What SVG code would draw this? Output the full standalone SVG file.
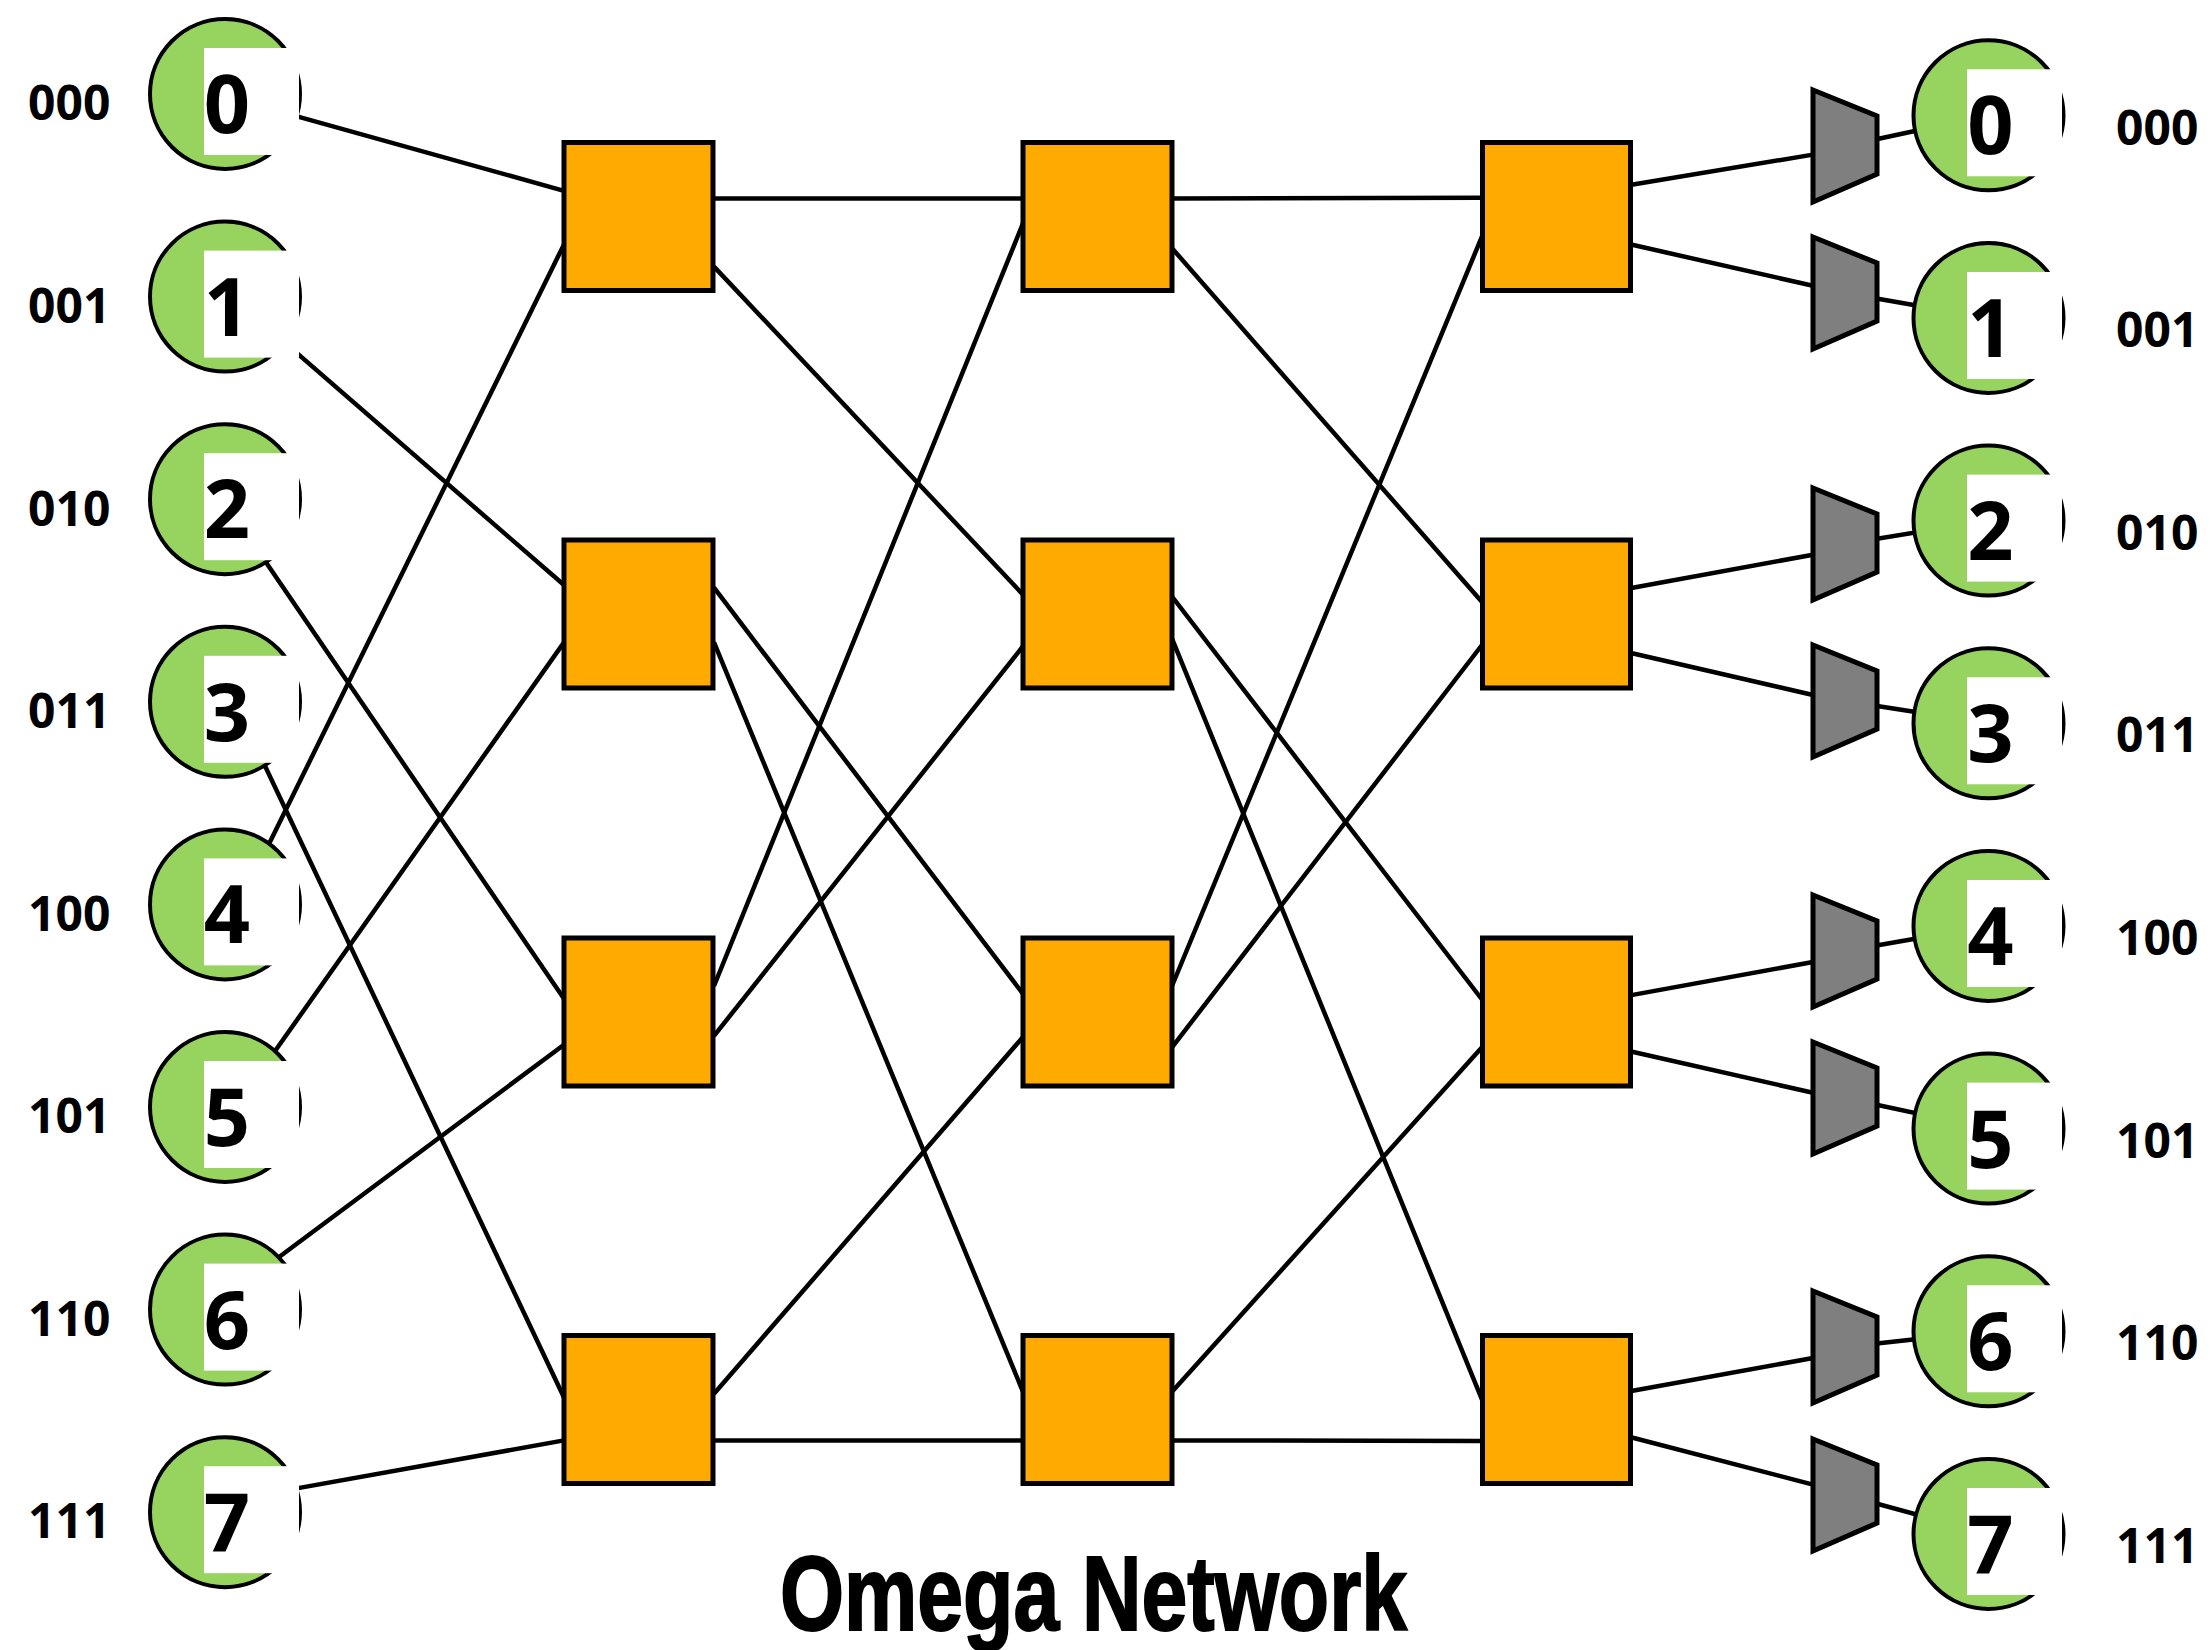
<svg xmlns="http://www.w3.org/2000/svg" width="2212" height="1650" viewBox="0 0 2212 1650">
<style>
.bg{fill:#ffffff}
.wire{stroke:#000;stroke-width:4.5;fill:none;stroke-linecap:butt}
.ep{fill:#97D35F;stroke:#000;stroke-width:4}
.mask{fill:#ffffff}
.num{font-family:"Open Sans","Liberation Sans",sans-serif;font-weight:700;font-size:81px;fill:#000;text-anchor:middle}
.bits{font-family:"Open Sans","Liberation Sans",sans-serif;font-weight:700;font-size:48px;fill:#000}
.sw{fill:#FFAA00;stroke:#000;stroke-width:5}
.mux{fill:#7F7F7F;stroke:#000;stroke-width:5;stroke-linejoin:miter}
.title{font-family:"Liberation Sans","Open Sans",sans-serif;font-weight:700;font-size:106px;fill:#000}
</style>
<rect class="bg" x="0" y="0" width="2212" height="1650"/>

<g id="connectors">
  <!-- inputs to stage 0 -->
  <line class="wire" x1="280" y1="111.7" x2="564" y2="190.8"/>
  <line class="wire" x1="280" y1="338.4" x2="564" y2="585"/>
  <line class="wire" x1="255" y1="546.3" x2="564" y2="998.7"/>
  <line class="wire" x1="260" y1="755.4" x2="564" y2="1397.5"/>
  <line class="wire" x1="259" y1="864.3" x2="564" y2="244.4"/>
  <line class="wire" x1="265" y1="1065.2" x2="564" y2="642.4"/>
  <line class="wire" x1="265" y1="1267.5" x2="564" y2="1044.7"/>
  <line class="wire" x1="280" y1="1491.4" x2="564" y2="1440.4"/>
  <!-- stage 0 to stage 1 -->
  <line class="wire" x1="714" y1="198.5" x2="1023" y2="198.5"/>
  <line class="wire" x1="714" y1="266.6" x2="1023" y2="594.6"/>
  <line class="wire" x1="714" y1="587.7" x2="1023" y2="993.8"/>
  <line class="wire" x1="714" y1="642.4" x2="1023" y2="1391.8"/>
  <line class="wire" x1="714" y1="986" x2="1023" y2="223.3"/>
  <line class="wire" x1="714" y1="1035.9" x2="1023" y2="646.2"/>
  <line class="wire" x1="714" y1="1393.7" x2="1023" y2="1037"/>
  <line class="wire" x1="714" y1="1440.4" x2="1023" y2="1440.4"/>
  <!-- stage 1 to stage 2 -->
  <line class="wire" x1="1172" y1="198.5" x2="1482" y2="197.7"/>
  <line class="wire" x1="1172" y1="248.2" x2="1482" y2="602"/>
  <line class="wire" x1="1172" y1="596.5" x2="1482" y2="999.5"/>
  <line class="wire" x1="1172" y1="638.6" x2="1482" y2="1399.6"/>
  <line class="wire" x1="1172" y1="986" x2="1482" y2="236.4"/>
  <line class="wire" x1="1172" y1="1047.3" x2="1482" y2="645"/>
  <line class="wire" x1="1172" y1="1391.8" x2="1482" y2="1047.2"/>
  <line class="wire" x1="1172" y1="1440.4" x2="1482" y2="1441"/>
  <!-- stage 2 to output muxes -->
  <line class="wire" x1="1630" y1="185" x2="1813" y2="154.6"/>
  <line class="wire" x1="1630" y1="244.3" x2="1813" y2="285.8"/>
  <line class="wire" x1="1630" y1="588.3" x2="1813" y2="554.7"/>
  <line class="wire" x1="1630" y1="652.8" x2="1813" y2="695"/>
  <line class="wire" x1="1630" y1="995.4" x2="1813" y2="962"/>
  <line class="wire" x1="1630" y1="1051.3" x2="1813" y2="1092.8"/>
  <line class="wire" x1="1630" y1="1391.3" x2="1813" y2="1358"/>
  <line class="wire" x1="1630" y1="1437" x2="1813" y2="1484.6"/>
  <!-- muxes to outputs -->
  <line class="wire" x1="1845" y1="146" x2="1988" y2="115.3"/>
  <line class="wire" x1="1845" y1="293" x2="1988" y2="318"/>
  <line class="wire" x1="1845" y1="544" x2="1988" y2="520.6"/>
  <line class="wire" x1="1845" y1="701" x2="1988" y2="723.3"/>
  <line class="wire" x1="1845" y1="951" x2="1988" y2="926"/>
  <line class="wire" x1="1845" y1="1098" x2="1988" y2="1128.6"/>
  <line class="wire" x1="1845" y1="1347" x2="1988" y2="1331.3"/>
  <line class="wire" x1="1845" y1="1495" x2="1988" y2="1534"/>
</g>

<!-- input nodes -->
<g id="in0"><circle class="ep" cx="225" cy="94" r="75"/><rect class="mask" x="204" y="48" width="95" height="107"/><text class="num" x="227" y="133">0</text><text class="bits" x="28" y="120">000</text></g>
<g id="in1"><circle class="ep" cx="225" cy="296.6" r="75"/><rect class="mask" x="204" y="250.6" width="95" height="107"/><text class="num" x="227" y="335.6">1</text><text class="bits" x="28" y="323">001</text></g>
<g id="in2"><circle class="ep" cx="225" cy="499.2" r="75"/><rect class="mask" x="204" y="453.2" width="95" height="107"/><text class="num" x="227" y="538.2">2</text><text class="bits" x="28" y="525.5">010</text></g>
<g id="in3"><circle class="ep" cx="225" cy="701.8" r="75"/><rect class="mask" x="204" y="655.8" width="95" height="107"/><text class="num" x="227" y="740.8">3</text><text class="bits" x="28" y="728">011</text></g>
<g id="in4"><circle class="ep" cx="225" cy="904.4" r="75"/><rect class="mask" x="204" y="858.4" width="95" height="107"/><text class="num" x="227" y="943.4">4</text><text class="bits" x="28" y="930.5">100</text></g>
<g id="in5"><circle class="ep" cx="225" cy="1107" r="75"/><rect class="mask" x="204" y="1061" width="95" height="107"/><text class="num" x="227" y="1146">5</text><text class="bits" x="28" y="1133">101</text></g>
<g id="in6"><circle class="ep" cx="225" cy="1309.6" r="75"/><rect class="mask" x="204" y="1263.6" width="95" height="107"/><text class="num" x="227" y="1348.6">6</text><text class="bits" x="28" y="1335.5">110</text></g>
<g id="in7"><circle class="ep" cx="225" cy="1512.2" r="75"/><rect class="mask" x="204" y="1466.2" width="95" height="107"/><text class="num" x="227" y="1551.2">7</text><text class="bits" x="28" y="1538">111</text></g>

<!-- switches -->
<g id="sw-0-0"><rect class="sw" x="564" y="142.5" width="149" height="148"/></g>
<g id="sw-0-1"><rect class="sw" x="564" y="540" width="149" height="148"/></g>
<g id="sw-0-2"><rect class="sw" x="564" y="938" width="149" height="148"/></g>
<g id="sw-0-3"><rect class="sw" x="564" y="1335.5" width="149" height="148"/></g>
<g id="sw-1-0"><rect class="sw" x="1023" y="142.5" width="149" height="148"/></g>
<g id="sw-1-1"><rect class="sw" x="1023" y="540" width="149" height="148"/></g>
<g id="sw-1-2"><rect class="sw" x="1023" y="938" width="149" height="148"/></g>
<g id="sw-1-3"><rect class="sw" x="1023" y="1335.5" width="149" height="148"/></g>
<g id="sw-2-0"><rect class="sw" x="1482.5" y="142.5" width="148" height="148"/></g>
<g id="sw-2-1"><rect class="sw" x="1482.5" y="540" width="148" height="148"/></g>
<g id="sw-2-2"><rect class="sw" x="1482.5" y="938" width="148" height="148"/></g>
<g id="sw-2-3"><rect class="sw" x="1482.5" y="1335.5" width="148" height="148"/></g>

<!-- output muxes -->
<g id="mux0"><polygon class="mux" points="1813,90 1877,116 1877,174 1813,202"/></g>
<g id="mux1"><polygon class="mux" points="1813,237 1877,263 1877,321 1813,349"/></g>
<g id="mux2"><polygon class="mux" points="1813,488 1877,514 1877,572 1813,600"/></g>
<g id="mux3"><polygon class="mux" points="1813,645 1877,671 1877,729 1813,757"/></g>
<g id="mux4"><polygon class="mux" points="1813,895 1877,921 1877,979 1813,1007"/></g>
<g id="mux5"><polygon class="mux" points="1813,1042 1877,1068 1877,1126 1813,1154"/></g>
<g id="mux6"><polygon class="mux" points="1813,1291 1877,1317 1877,1375 1813,1403"/></g>
<g id="mux7"><polygon class="mux" points="1813,1439 1877,1465 1877,1523 1813,1551"/></g>

<!-- output nodes -->
<g id="out0"><circle class="ep" cx="1988.5" cy="115.3" r="75"/><rect class="mask" x="1967" y="69.3" width="95" height="107"/><text class="num" x="1990.5" y="154.3">0</text><text class="bits" x="2116" y="145">000</text></g>
<g id="out1"><circle class="ep" cx="1988.5" cy="318" r="75"/><rect class="mask" x="1967" y="272" width="95" height="107"/><text class="num" x="1990.5" y="357">1</text><text class="bits" x="2116" y="347">001</text></g>
<g id="out2"><circle class="ep" cx="1988.5" cy="520.6" r="75"/><rect class="mask" x="1967" y="474.6" width="95" height="107"/><text class="num" x="1990.5" y="559.6">2</text><text class="bits" x="2116" y="549.6">010</text></g>
<g id="out3"><circle class="ep" cx="1988.5" cy="723.3" r="75"/><rect class="mask" x="1967" y="677.3" width="95" height="107"/><text class="num" x="1990.5" y="762.3">3</text><text class="bits" x="2116" y="752.3">011</text></g>
<g id="out4"><circle class="ep" cx="1988.5" cy="926" r="75"/><rect class="mask" x="1967" y="880" width="95" height="107"/><text class="num" x="1990.5" y="965">4</text><text class="bits" x="2116" y="955">100</text></g>
<g id="out5"><circle class="ep" cx="1988.5" cy="1128.6" r="75"/><rect class="mask" x="1967" y="1082.6" width="95" height="107"/><text class="num" x="1990.5" y="1167.6">5</text><text class="bits" x="2116" y="1157.6">101</text></g>
<g id="out6"><circle class="ep" cx="1988.5" cy="1331.3" r="75"/><rect class="mask" x="1967" y="1285.3" width="95" height="107"/><text class="num" x="1990.5" y="1370.3">6</text><text class="bits" x="2116" y="1360.3">110</text></g>
<g id="out7"><circle class="ep" cx="1988.5" cy="1534" r="75"/><rect class="mask" x="1967" y="1488" width="95" height="107"/><text class="num" x="1990.5" y="1573">7</text><text class="bits" x="2116" y="1563">111</text></g>

<text class="title" x="780" y="1630" textLength="627" lengthAdjust="spacingAndGlyphs" stroke="#000" stroke-width="2">Omega Network</text>
</svg>
